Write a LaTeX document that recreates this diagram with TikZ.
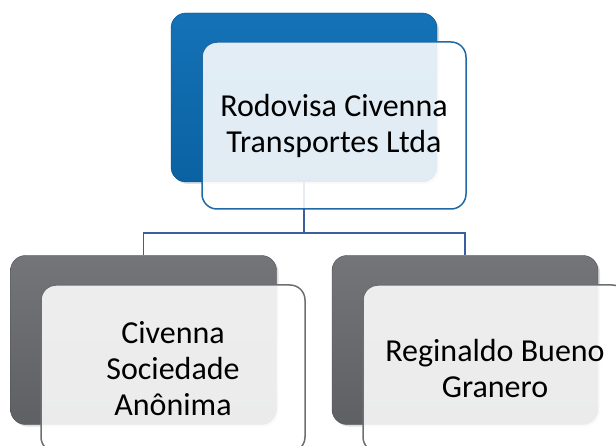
\documentclass[tikz,border=0pt]{standalone}
\usepackage{fontspec}
\setmainfont{Carlito}
\usetikzlibrary{shadows}

\definecolor{rodblue}{HTML}{0A62A2}
\definecolor{rodbluetop}{HTML}{1472B6}
\definecolor{rodline}{HTML}{1F68A4}
\definecolor{linkblue}{HTML}{3D5E9E}
\definecolor{subgray}{HTML}{5F6063}
\definecolor{subgraytop}{HTML}{747578}
\definecolor{subline}{HTML}{6E6F72}

\begin{document}
\begin{tikzpicture}[x=1pt,y=-1pt,
    back/.style={rectangle,rounded corners=15pt,minimum width=266pt,minimum height=169pt,
                 drop shadow={opacity=0.25,shadow xshift=2pt,shadow yshift=-2pt}},
    front/.style={rectangle,rounded corners=15pt,minimum width=264pt,minimum height=167pt,
                  fill=white,fill opacity=0.88,text opacity=1,line width=1.5pt,
                  align=center,font=\fontsize{32}{36}\selectfont},
    link/.style={draw=linkblue,line width=1.8pt}]
    \useasboundingbox (0,0) rectangle (616,446);
    \begin{scope}
    \clip (0,0) rectangle (616,446);

    % back boxes
    \node[back,top color=rodbluetop,bottom color=rodblue,draw=rodblue!80!black] (rodback) at (304,97.5) {};
    \node[back,top color=subgraytop,bottom color=subgray,draw=subgray!80!black] (civback) at (143.5,340) {};
    \node[back,top color=subgraytop,bottom color=subgray,draw=subgray!80!black] (regback) at (465,340) {};

    % connectors
    \draw[link] (rodback.south) -- ++(0,51) -| (civback.north);
    \draw[link] (rodback.south) -- ++(0,51) -| (regback.north);

    % front boxes
    \node[front,draw=rodline] (rod) at (334,125.5) {Rodovisa Civenna\\Transportes Ltda};
    \node[front,draw=subline] (civ) at (173,368.5) {Civenna\\Sociedade\\Anônima};
    \node[front,draw=subline] (reg) at (495,368.5) {Reginaldo Bueno\\Granero};
    \end{scope}
  \end{tikzpicture}
\end{document}
